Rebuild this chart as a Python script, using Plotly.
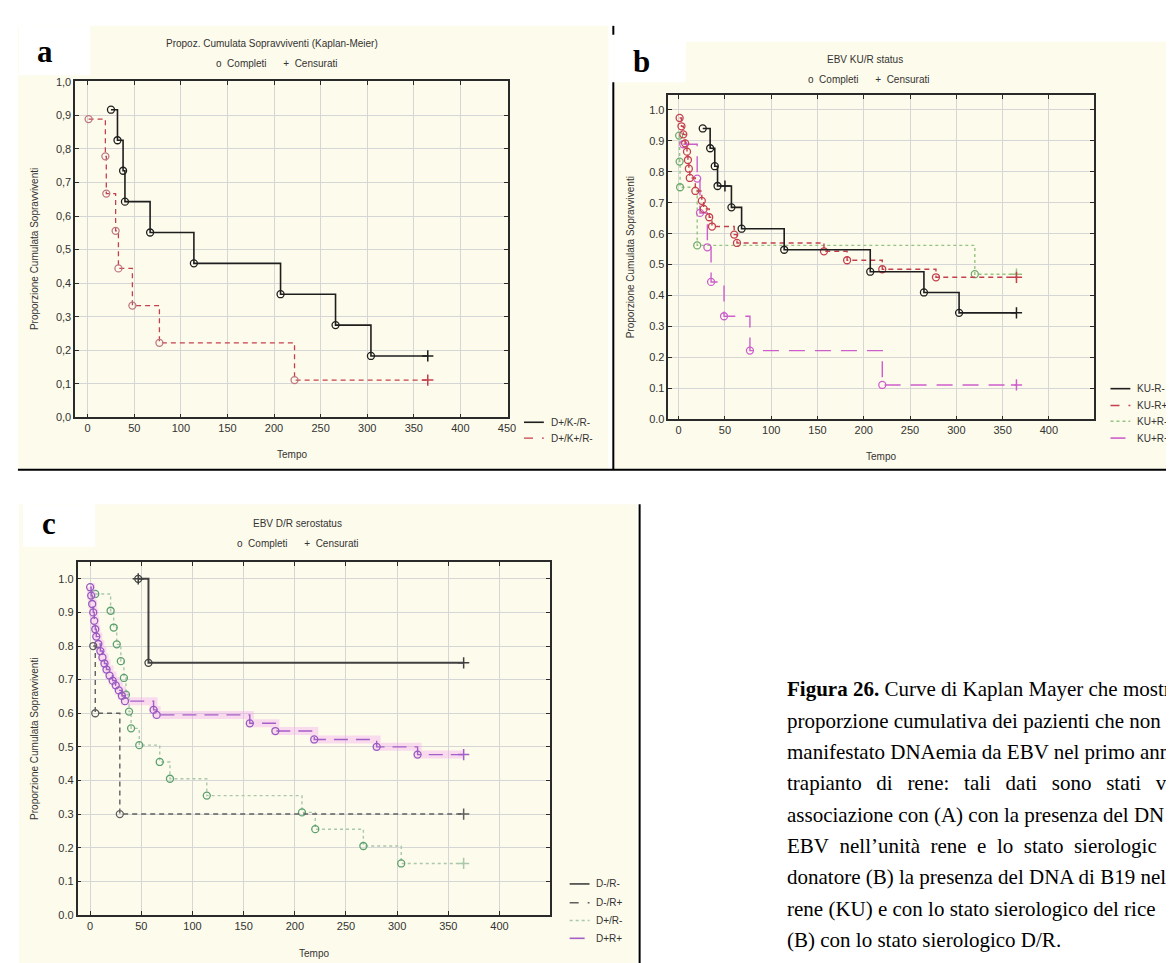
import plotly.graph_objects as go

W, H = 1174, 963
def fx(px): return px / W
def fy(py): return 1 - py / H

CENSOR_T = 365
X_TICKS = [0, 50, 100, 150, 200, 250, 300, 350, 400, 450]
Y_TICKS = [0.0, 0.1, 0.2, 0.3, 0.4, 0.5, 0.6, 0.7, 0.8, 0.9, 1.0]
Y_LABELS_COMMA = ["0,0", "0,1", "0,2", "0,3", "0,4", "0,5", "0,6", "0,7", "0,8", "0,9", "1,0"]
Y_LABELS_DOT = ["0.0", "0.1", "0.2", "0.3", "0.4", "0.5", "0.6", "0.7", "0.8", "0.9", "1.0"]

# ---------- panel a ----------
A_T_NEG = [25, 32, 38, 40, 67, 114, 207, 266, 304]
A_S_NEG = [0.917, 0.826, 0.735, 0.643, 0.551, 0.459, 0.367, 0.275, 0.183]
A_T_POS = [1, 19, 20, 30, 33, 48, 77, 222]
A_S_POS = [0.889, 0.778, 0.667, 0.556, 0.444, 0.333, 0.222, 0.111]
A_NAMES = ["D+/K-/R-", "D+/K+/R-"]

# ---------- panel b ----------
B_T_1 = [26, 34, 39, 42, 57, 68, 114, 207, 265, 303]
B_S_1 = [0.94, 0.876, 0.818, 0.754, 0.685, 0.616, 0.548, 0.477, 0.41, 0.344]
B_T_2 = [1, 3, 5, 7, 9, 10, 11, 12, 18, 25, 27, 33, 36, 60, 63, 157, 182, 220, 278]
B_S_2 = [0.974, 0.947, 0.921, 0.892, 0.865, 0.838, 0.81, 0.78, 0.738, 0.706, 0.68,
         0.653, 0.623, 0.597, 0.57, 0.543, 0.514, 0.485, 0.459]
B_T_3 = [0.5, 1, 1.5, 20, 320]
B_S_3 = [0.917, 0.833, 0.75, 0.562, 0.469]
B_T_4 = [5, 20, 23, 31, 35, 49, 77, 220]
B_S_4 = [0.889, 0.778, 0.667, 0.556, 0.444, 0.333, 0.222, 0.111]
B_NAMES = ["KU-R-", "KU-R+", "KU+R-", "KU+R+"]

# ---------- panel c ----------
C_T_1 = [47, 57]
C_S_1 = [1.0, 0.75]
C_T_2 = [3, 5, 29]
C_S_2 = [0.8, 0.6, 0.3]
C_T_3 = [5, 20, 23, 26, 30, 33, 35, 38, 40, 48, 68, 78, 114, 207, 220, 267, 304]
C_S_3 = [0.955, 0.905, 0.855, 0.805, 0.755, 0.705, 0.655, 0.605, 0.555, 0.505,
         0.455, 0.405, 0.355, 0.305, 0.255, 0.205, 0.153]
C_T_4 = [0, 1, 2, 3, 4, 5, 6, 8, 10, 12, 14, 16, 19, 22, 25, 28, 31, 34, 62, 65,
         156, 181, 219, 280, 320]
C_S_4 = [0.975, 0.95, 0.925, 0.9, 0.875, 0.85, 0.828, 0.806, 0.785, 0.766, 0.748,
         0.73, 0.712, 0.697, 0.683, 0.668, 0.652, 0.636, 0.61, 0.595, 0.57, 0.547,
         0.522, 0.5, 0.477]
C_NAMES = ["D-/R-", "D-/R+", "D+/R-", "D+R+"]

GAP = "\u00a0\u00a0\u2009"
GAP2 = "\u00a0\u00a0"
CAPTION = [
    "<b>Figura 26.</b> Curve di Kaplan Mayer che mostr",
    "proporzione cumulativa dei pazienti che non",
    "manifestato DNAemia da EBV nel primo ann",
    GAP.join(["trapianto", "di", "rene:", "tali", "dati", "sono", "stati", "vi"]),
    "\u00a0".join(["associazione", "con", "(A)", "con", "la", "presenza", "del", "DN"]),
    GAP2.join(["EBV", "nell\u2019unità", "rene", "e", "lo", "stato", "sierologic"]),
    "donatore (B) la presenza del DNA di B19 nell",
    "rene (KU) e con lo stato sierologico del rice",
    "(B) con lo stato sierologico D/R.",
]

fig = go.Figure()

def add_km(T, S, col, dash, width, xa, ya, mcol=None, glow=None, censor_extra=None):
    mcol = mcol or col
    xs = list(T) + [CENSOR_T]
    ys = list(S) + [S[-1]]
    if glow:
        fig.add_trace(go.Scatter(x=xs, y=ys, mode="lines", line_shape="hv",
                                 line=dict(color=glow, width=8), xaxis=xa, yaxis=ya,
                                 hoverinfo="skip"))
    fig.add_trace(go.Scatter(x=xs, y=ys, mode="lines", line_shape="hv",
                             line=dict(color=col, dash=dash, width=width),
                             xaxis=xa, yaxis=ya))
    fig.add_trace(go.Scatter(x=T, y=S, mode="markers",
                             marker=dict(symbol="circle-open", size=7,
                                         line=dict(color=mcol, width=1.3), color=mcol),
                             xaxis=xa, yaxis=ya))
    cx = [CENSOR_T]
    cy = [S[-1]]
    if censor_extra:
        cx += [p[0] for p in censor_extra]
        cy += [p[1] for p in censor_extra]
    fig.add_trace(go.Scatter(x=cx, y=cy, mode="markers",
                             marker=dict(symbol="cross-thin", size=8,
                                         line=dict(color=col, width=1.5)),
                             xaxis=xa, yaxis=ya))

BLACK = "#1e1e1e"
RED = "rgb(196,64,78)"
GREEN = "rgb(150,195,130)"
MAG = "rgb(205,95,205)"
PURP = "rgb(165,95,200)"
GRAY = "rgb(95,95,95)"

# panel a
add_km(A_T_NEG, A_S_NEG, BLACK, "solid", 1.6, "x", "y")
add_km(A_T_POS, A_S_POS, RED, "5px,4px", 1.3, "x", "y", mcol="rgb(190,120,130)")
# panel b
add_km(B_T_3, B_S_3, GREEN, "dot", 1.4, "x2", "y2", mcol="rgb(110,170,110)")
add_km(B_T_4, B_S_4, MAG, "16px,10px", 1.4, "x2", "y2")
add_km(B_T_2, B_S_2, RED, "5px,4px", 1.4, "x2", "y2")
add_km(B_T_1, B_S_1, BLACK, "solid", 1.6, "x2", "y2", censor_extra=[(50, 0.754)])
# panel c
add_km(C_T_3, C_S_3, "rgb(170,200,170)", "dot", 1.4, "x3", "y3", mcol="rgb(90,160,110)")
add_km(C_T_4, C_S_4, PURP, "14px,8px", 1.4, "x3", "y3",
       glow="rgba(240,160,240,0.35)", mcol="rgb(150,90,190)")
add_km(C_T_2, C_S_2, GRAY, "5px,4px", 1.4, "x3", "y3")
add_km(C_T_1, C_S_1, "#404040", "solid", 2.0, "x3", "y3", censor_extra=[(47, 1.0)])

tickfont = dict(family="Liberation Sans, Arial, sans-serif", size=11, color="#333")
axcommon = dict(showgrid=True, gridcolor="#d6d6d6", gridwidth=1, zeroline=False,
                showline=True, linecolor="#2a2a2a", linewidth=1.6, mirror="allticks",
                ticks="inside", ticklen=4, tickcolor="#2a2a2a", tickfont=tickfont)

fig.update_layout(
    xaxis=dict(domain=[fx(67.7), fx(503.5)], range=[-13.4, 450.7], anchor="y",
               tickvals=X_TICKS, ticktext=[str(v) for v in X_TICKS], **axcommon),
    yaxis=dict(domain=[fy(409), fy(69)], range=[0, 1.002], anchor="x",
               tickvals=Y_TICKS, ticktext=Y_LABELS_COMMA, **axcommon),
    xaxis2=dict(domain=[fx(665.6), fx(1094.6)], range=[-11, 449], anchor="y2",
                tickvals=X_TICKS, ticktext=[str(v) for v in X_TICKS], **axcommon),
    yaxis2=dict(domain=[fy(411), fy(83)], range=[0, 1.048], anchor="x2",
                tickvals=Y_TICKS, ticktext=Y_LABELS_DOT, **axcommon),
    xaxis3=dict(domain=[fx(70.2), fx(546)], range=[-12.2, 449.2], anchor="y3",
                tickvals=X_TICKS, ticktext=[str(v) for v in X_TICKS], **axcommon),
    yaxis3=dict(domain=[fy(912.3), fy(555.7)], range=[0, 1.049], anchor="x3",
                tickvals=Y_TICKS, ticktext=Y_LABELS_DOT, **axcommon),
)

CREAM = "#fdfbeb"
shapes = []
def rect(x0, y0, x1, y1, fill, layer="below"):
    shapes.append(dict(type="rect", xref="paper", yref="paper",
                       x0=fx(x0), x1=fx(x1), y0=fy(y1), y1=fy(y0),
                       fillcolor=fill, line=dict(width=0), layer=layer))
def hline(x0, x1, y, col="black", w=2, dash="solid", layer="above"):
    shapes.append(dict(type="line", xref="paper", yref="paper",
                       x0=fx(x0), x1=fx(x1), y0=fy(y), y1=fy(y),
                       line=dict(color=col, width=w, dash=dash), layer=layer))
def vline(x, y0, y1, col="black", w=2):
    shapes.append(dict(type="line", xref="paper", yref="paper",
                       x0=fx(x), x1=fx(x), y0=fy(y0), y1=fy(y1),
                       line=dict(color=col, width=w), layer="above"))

rect(10, 13, 605, 461, CREAM)
rect(11, 13, 83, 63, "white")
rect(611, 29, 1174, 461, CREAM)
rect(611, 29, 683, 70, "white")
rect(11, 497, 634, 963, CREAM)
rect(15, 497, 88, 540, "white")
hline(10, 1174, 462)
vline(610, 13, 22)
vline(610, 70, 462)
vline(636.5, 497, 963)

annotations = []
def txt(x, y, s, size=10, fam="Liberation Sans, Arial, sans-serif", col="#333",
        xanchor="center", angle=0):
    annotations.append(dict(x=fx(x), y=fy(y), xref="paper", yref="paper", text=s,
                            showarrow=False, xanchor=xanchor, yanchor="middle",
                            textangle=angle, font=dict(size=size, family=fam, color=col)))

SERIF = "Liberation Serif, Times New Roman, serif"
txt(37, 39, "<b>a</b>", size=31, fam=SERIF, col="black")
txt(638, 49, "<b>b</b>", size=31, fam=SERIF, col="black")
txt(41, 516, "<b>c</b>", size=31, fam=SERIF, col="black")

txt(266, 31, "Propoz. Cumulata Sopravviventi (Kaplan-Meier)", size=10)
txt(271, 51, "o  Completi      +  Censurati", size=10)
txt(864, 47, "EBV KU/R status", size=10)
txt(867, 67, "o  Completi      +  Censurati", size=10)
txt(292, 516, "EBV D/R serostatus", size=10)
txt(292, 537, "o  Completi      +  Censurati", size=10)

for (x, y) in [(26, 239), (627, 247), (26.5, 734)]:
    txt(x, y, "Proporzione Cumulata Sopravviventi", size=10, angle=-90)
for (x, y) in [(286, 447), (880, 449), (308, 951)]:
    txt(x, y, "Tempo", size=10)

# legends
def legend_entry(x0, y, name, col, dash, w=1.6):
    hline(x0, x0 + 20, y, col=col, w=w, dash=dash)
    txt(x0 + 25, y, name, size=10, xanchor="left")

legend_entry(520, 414, A_NAMES[0], BLACK, "solid")
legend_entry(520, 430, A_NAMES[1], RED, "dash", 1.3)
for y, name, col, dash in zip([380, 397, 413, 430], B_NAMES,
                              [BLACK, RED, GREEN, MAG],
                              ["solid", "dash", "dot", "longdash"]):
    legend_entry(1111, y, name, col, dash)
for y, name, col, dash in zip([881, 900, 918, 936], C_NAMES,
                              ["#404040", GRAY, "rgb(170,200,170)", PURP],
                              ["solid", "dash", "dot", "longdash"]):
    legend_entry(566, y, name, col, dash)

for i, line in enumerate(CAPTION):
    txt(783, 684 + 31.7 * i, line, size=21, fam=SERIF, col="black", xanchor="left")

fig.update_layout(width=W, height=H, margin=dict(l=0, r=0, t=0, b=0),
                  paper_bgcolor="white", plot_bgcolor="white", showlegend=False,
                  shapes=shapes, annotations=annotations)

fig.write_html("out.html")
